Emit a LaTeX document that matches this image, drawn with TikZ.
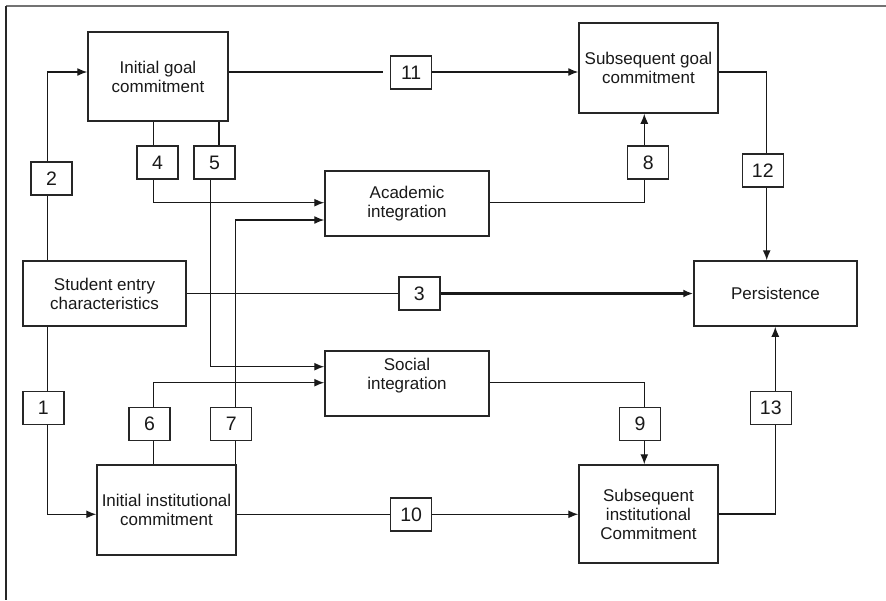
\documentclass[tikz,border=0pt]{standalone}
\usepackage{fontspec}
\setmainfont{Liberation Sans}
\usetikzlibrary{arrows.meta,backgrounds}
\begin{document}
\begin{tikzpicture}[x=1pt,y=-1pt,
  box/.style={draw=black!85,line width=1.5pt,fill=white,inner sep=0pt,align=center,font=\fontsize{17}{19}\selectfont,text=black!90},
  num/.style={draw=black!85,line width=1.5pt,fill=white,inner sep=0pt,minimum width=41pt,minimum height=33pt,font=\fontsize{19.5}{21}\selectfont,text=black!90},
  conn/.style={line width=1.3pt,draw=black!90},
  arr/.style={conn,-{Latex[length=10pt,width=8pt]}},
  thickarr/.style={arr,line width=2.4pt},
]
\useasboundingbox (0,0) rectangle (886,600);
\draw[line width=2pt,black!55] (6,6) -- (886,6);
\draw[line width=1.6pt,black!85] (6,6) -- (6,600);

% main boxes
\node[box,minimum width=140pt,minimum height=89pt] (igc) at (158,76.5) {Initial goal\\commitment};
\node[box,minimum width=139pt,minimum height=90pt] (sgc) at (648.5,68) {Subsequent goal\\commitment};
\node[box,minimum width=164pt,minimum height=65pt] (ai) at (407,203.5) {Academic\\integration};
\node[box,minimum width=163pt,minimum height=65pt] (sec) at (104.5,293.5) {Student entry\\characteristics};
\node[box,minimum width=163pt,minimum height=65pt] (pers) at (775.5,293.5) {Persistence};
\node[box,minimum width=164pt,minimum height=65pt] (si) at (407,383.5) {Social\\integration\\\mbox{}};
\node[box,minimum width=139pt,minimum height=90pt] (iic) at (166.5,510) {Initial institutional\\commitment};
\node[box,minimum width=139pt,minimum height=98pt] (sic) at (648.5,514) {Subsequent\\institutional\\Commitment};

% number boxes
\node[num] (b1) at (43.3,408) {1};
\node[num] (b2) at (51.5,178.5) {2};
\node[num] (b3) at (419.3,293.5) {3};
\node[num] (b4) at (157.5,162.5) {4};
\node[num] (b5) at (214.5,162.5) {5};
\node[num] (b6) at (149.5,424.2) {6};
\node[num] (b7) at (231.2,424.2) {7};
\node[num] (b8) at (648.2,162.3) {8};
\node[num] (b9) at (640,424) {9};
\node[num] (b10) at (411.2,514.3) {10};
\node[num] (b11) at (411.2,72.3) {11};
\node[num] (b12) at (762.8,170.7) {12};
\node[num] (b13) at (770.8,407.8) {13};

% bend coordinates
\coordinate (p1) at (47.7,514.3);
\coordinate (p2) at (47.7,72);
\coordinate (p4) at (153.3,202.7);
\coordinate (p5a) at (219,0);
\coordinate (p5) at (210.7,366.7);
\coordinate (p6) at (153.3,382.7);
\coordinate (p7) at (235.7,220);
\coordinate (p8) at (644.3,202.7);
\coordinate (p9) at (644.3,382.7);
\coordinate (p10) at (0,514.3);
\coordinate (p12) at (766.7,72);
\coordinate (p13) at (775.3,514);

\begin{pgfonlayer}{background}
\draw[arr] (sec.south -| p1) |- (iic.west |- p1);
\draw[arr] (sec.north -| p2) |- (igc.west |- p2);
\draw[conn] (sec.east) -- (b3.west);
\draw[thickarr] (b3.east) -- (pers.west);
\draw[arr] (igc.south -| p4) |- (ai.west |- p4);
\draw[conn] (igc.south -| p5a) -- (b5.north -| p5a);
\draw[arr] (b5.south -| p5) |- (si.west |- p5);
\draw[arr] (iic.north -| p6) |- (si.west |- p6);
\draw[arr] (iic.north -| p7) |- (ai.west |- p7);
\draw[arr] (ai.east |- p8) -| (sgc.south -| p8);
\draw[arr] (si.east |- p9) -| (sic.north -| p9);
\draw[conn] (iic.east |- p10) -- (b10.west |- p10);
\draw[arr] (b10.east |- p10) -- (sic.west |- p10);
\draw[conn,shorten >=7pt] (igc.east |- p2) -- (b11.west |- p2);
\draw[arr] (b11.east |- p2) -- (sgc.west |- p2);
\draw[arr] (sgc.east |- p12) -| (pers.north -| p12);
\draw[arr] (sic.east |- p13) -| (pers.south -| p13);
\end{pgfonlayer}
\end{tikzpicture}
\end{document}
